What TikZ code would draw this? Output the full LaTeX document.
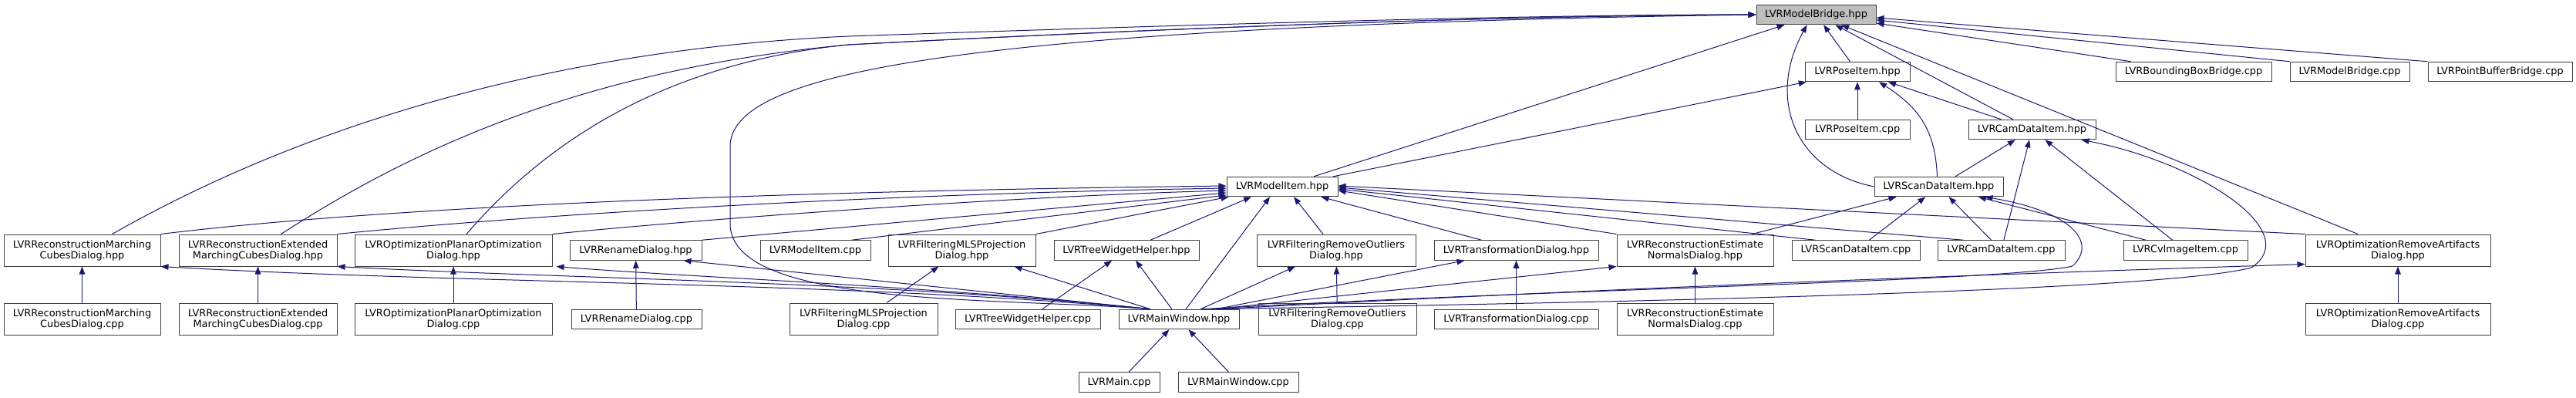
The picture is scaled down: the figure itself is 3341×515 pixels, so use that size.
\documentclass[tikz,border=0pt]{standalone}
\usepackage{fontspec}
\setmainfont{DejaVu Sans}
\usetikzlibrary{arrows.meta}
\definecolor{edgeblue}{RGB}{25,25,112}
\definecolor{rootgray}{RGB}{191,191,191}
\tikzset{
  file/.style={draw=black!75, line width=1pt, fill=white, inner sep=0pt,
    minimum height=25.5pt, align=center, font=\fontsize{12.9}{14}\selectfont},
  twoline/.style={file, minimum height=41pt},
  root/.style={file, fill=rootgray},
  edge/.style={draw=edgeblue, line width=1pt, -{Triangle[length=10pt,width=7.5pt]}},
}
% node: name, x, y, width, text (pixel coordinates)
\newcommand{\filebox}[5]{\node[file, minimum width=#4pt] (#1) at (#2,#3) {#5};}
\newcommand{\twobox}[5]{\node[twoline, minimum width=#4pt] (#1) at (#2,#3) {#5};}

\begin{document}
\begin{tikzpicture}[x=1pt, y=-1pt]
\fill[white] (0,0) rectangle (3341,515);
\useasboundingbox (0,0) rectangle (3341,515);
% top rows
\node[root, minimum width=155pt] (bridge) at (2355.5,19) {LVRModelBridge.hpp};
\filebox{pose}{2409}{93}{136}{LVRPoseItem.hpp}
\filebox{bbox}{2845}{93}{202}{LVRBoundingBoxBridge.cpp}
\filebox{bridgecpp}{3047.5}{93}{155}{LVRModelBridge.cpp}
\filebox{pbuf}{3242.5}{93}{187}{LVRPointBufferBridge.cpp}
\filebox{posecpp}{2409}{168}{136}{LVRPoseItem.cpp}
\filebox{cam}{2635.5}{168}{165}{LVRCamDataItem.hpp}
\filebox{item}{1663}{242}{144}{LVRModelItem.hpp}
\filebox{scan}{2514.5}{242}{167}{LVRScanDataItem.hpp}
% headers row
\twobox{mc}{106.5}{324.5}{203}{LVRReconstructionMarching\\CubesDialog.hpp}
\twobox{extmc}{334.5}{324.5}{205}{LVRReconstructionExtended\\MarchingCubesDialog.hpp}
\twobox{planar}{588}{324.5}{256}{LVROptimizationPlanarOptimization\\Dialog.hpp}
\filebox{rename}{824.5}{324.5}{171}{LVRRenameDialog.hpp}
\filebox{itemcpp}{1057.5}{324.5}{143}{LVRModelItem.cpp}
\twobox{mls}{1247.5}{324.5}{191}{LVRFilteringMLSProjection\\Dialog.hpp}
\filebox{tree}{1461}{324.5}{188}{LVRTreeWidgetHelper.hpp}
\twobox{outl}{1733}{324.5}{206}{LVRFilteringRemoveOutliers\\Dialog.hpp}
\filebox{trans}{1966.5}{324.5}{213}{LVRTransformationDialog.hpp}
\twobox{normals}{2198.5}{324.5}{203}{LVRReconstructionEstimate\\NormalsDialog.hpp}
\filebox{scancpp}{2407}{324.5}{166}{LVRScanDataItem.cpp}
\filebox{camcpp}{2595.5}{324.5}{165}{LVRCamDataItem.cpp}
\filebox{cvimg}{2834.5}{324.5}{161}{LVRCvImageItem.cpp}
\twobox{artif}{3110}{324.5}{240}{LVROptimizationRemoveArtifacts\\Dialog.hpp}
% sources row
\twobox{mccpp}{106.5}{413.5}{203}{LVRReconstructionMarching\\CubesDialog.cpp}
\twobox{extmccpp}{334.5}{413.5}{205}{LVRReconstructionExtended\\MarchingCubesDialog.cpp}
\twobox{planarcpp}{588}{413.5}{256}{LVROptimizationPlanarOptimization\\Dialog.cpp}
\filebox{renamecpp}{825.5}{414}{169}{LVRRenameDialog.cpp}
\twobox{mlscpp}{1120}{413.5}{192}{LVRFilteringMLSProjection\\Dialog.cpp}
\filebox{treecpp}{1333}{414}{188}{LVRTreeWidgetHelper.cpp}
\filebox{win}{1529}{414}{156}{LVRMainWindow.hpp}
\twobox{outlcpp}{1734.5}{413.5}{205}{LVRFilteringRemoveOutliers\\Dialog.cpp}
\filebox{transcpp}{1966.5}{414}{213}{LVRTransformationDialog.cpp}
\twobox{normalscpp}{2198.5}{413.5}{203}{LVRReconstructionEstimate\\NormalsDialog.cpp}
\twobox{artifcpp}{3110}{413.5}{240}{LVROptimizationRemoveArtifacts\\Dialog.cpp}
\filebox{main}{1451.5}{495.5}{105}{LVRMain.cpp}
\filebox{wincpp}{1606}{495.5}{156}{LVRMainWindow.cpp}

% into LVRModelBridge.hpp
\draw[edge] ([xshift=39pt]mc.north) .. controls (380,170) and (700,65) .. (1100,47) .. controls (1600,30) and (2000,19) .. (bridge.west);
\draw[edge] ([xshift=30pt]extmc.north) .. controls (540,190) and (760,90) .. (1100,58) .. controls (1600,32) and (2000,20) .. (bridge.west);
\draw[edge] ([xshift=17pt]planar.north) .. controls (720,170) and (880,80) .. (1100,58) .. controls (1600,32) and (2000,20) .. (bridge.west);
\draw[edge] ([xshift=-37pt]win.north) .. controls (1300,385) and (947,400) .. (947,290) -- (947,190) .. controls (947,100) and (1200,35) .. (bridge.west);
\draw[edge] (scan.west) .. controls (2330,222) and (2290,130) .. ([xshift=-12pt]bridge.south);
\draw[edge] (pbuf.north west) -- ([yshift=-4pt]bridge.east);
\draw[edge] (bridgecpp.north west) -- ([yshift=-7pt]bridge.east);
\draw[edge] ([xshift=20pt]bbox.north west) -- ([yshift=-11pt]bridge.east);
\foreach \a in {item, pose, cam, artif}
  \draw[edge] (\a) -- (bridge);

% into LVRPoseItem.hpp, LVRCamDataItem.hpp, LVRScanDataItem.hpp
\foreach \a/\b in {item/pose, cam/pose, scan/cam, camcpp/cam, cvimg/cam, scancpp/scan, camcpp/scan, cvimg/scan}
  \draw[edge] (\a) -- (\b);
\draw[edge] ([xshift=-2pt]scan.north) .. controls (2510,170) and (2490,140) .. ([xshift=28pt]pose.south);
\draw[edge] ([xshift=-28pt]normals.north east) -- ([xshift=-55pt]scan.south);
\draw[edge] ([xshift=40pt]win.north) .. controls (2100,392) and (2800,378) .. (2920,347) .. controls (2990,300) and (2850,210) .. ([xshift=64pt]cam.south);
\draw[edge] ([xshift=30pt]win.north) .. controls (2000,375) and (2600,365) .. (2688,345) .. controls (2720,315) and (2690,275) .. ([xshift=60pt]scan.south);

% into LVRModelItem.hpp
\draw[edge] (mc.north east) .. controls (500,268) and (1000,248) .. ([yshift=1pt]item.west);
\draw[edge] (extmc.north east) .. controls (650,282) and (1100,252) .. ([yshift=-2pt]item.west);
\draw[edge] (planar.north east) .. controls (900,285) and (1300,255) .. ([yshift=-5pt]item.west);
\draw[edge] (rename.north east) -- ([yshift=-8pt]item.west);
\draw[edge] ([xshift=-25pt]itemcpp.north east) -- ([yshift=-11pt]item.west);
\draw[edge] (mls.north east) -- ([xshift=3pt]item.south west);
\draw[edge] ([xshift=31pt]tree.north) -- ([xshift=-40pt]item.south);
\draw[edge] ([xshift=9pt]win.north) -- ([xshift=-16pt]item.south);
\draw[edge] ([xshift=-17pt]outl.north) -- ([xshift=15pt]item.south);
\draw[edge] ([xshift=-45pt]trans.north) -- ([xshift=-22pt]item.south east);
\draw[edge] (normals.north west) -- ([yshift=-5pt]item.east);
\draw[edge] ([xshift=31pt]scancpp.north west) -- ([yshift=-3pt]item.east);
\draw[edge] ([xshift=34pt]camcpp.north west) -- ([yshift=-1pt]item.east);
\draw[edge] (artif.north west) -- ([yshift=1pt]item.east);

% LVRMainWindow.hpp to the dialogs
\draw[edge] ([xshift=-37pt]win.north) .. controls (1100,365) and (600,368) .. (mc.south east);
\draw[edge] ([xshift=-37pt]win.north) .. controls (1150,365) and (750,362) .. (extmc.south east);
\draw[edge] ([xshift=-37pt]win.north) .. controls (1200,370) and (900,360) .. ([xshift=5pt]planar.south east);
\draw[edge] ([xshift=-37pt]win.north) -- ([xshift=-24pt]rename.south east);
\draw[edge] ([xshift=-37pt]win.north) -- ([xshift=-28pt]mls.south east);
\draw[edge] ([xshift=-9pt]win.north) -- ([xshift=12pt]tree.south);
\draw[edge] ([xshift=28pt]win.north) -- ([xshift=-53pt]outl.south);
\draw[edge] ([xshift=48pt]win.north) -- ([xshift=-67pt]trans.south);
\draw[edge] ([xshift=48pt]win.north) -- (normals.south west);
\draw[edge] ([xshift=50pt]win.north) .. controls (2200,368) and (2700,352) .. ([yshift=3pt]artif.south west);

% sources to their headers
\foreach \a/\b in {mccpp/mc, extmccpp/extmc, planarcpp/planar, renamecpp/rename, mlscpp/mls, treecpp/tree, outlcpp/outl, transcpp/trans, normalscpp/normals, artifcpp/artif, posecpp/pose, main/win, wincpp/win}
  \draw[edge] (\a) -- (\b);
\end{tikzpicture}
\end{document}
